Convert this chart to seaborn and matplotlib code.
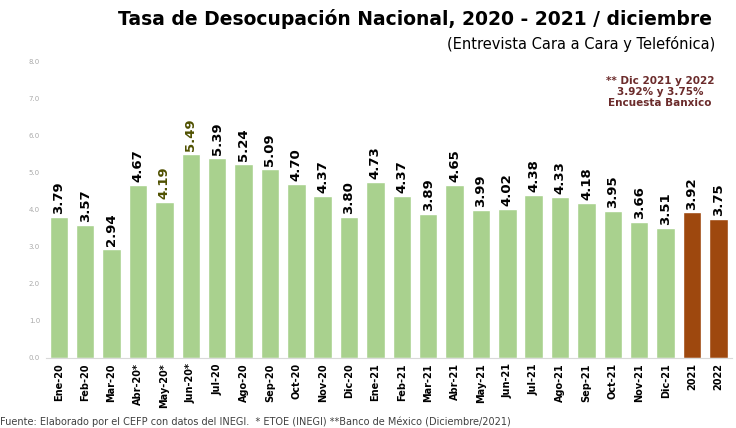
import pandas as pd
import matplotlib.pyplot as plt
import seaborn as sns

# ============ Data ============
periods = [
    "Ene-20", "Feb-20", "Mar-20", "Abr-20*", "May-20*", "Jun-20*", "Jul-20",
    "Ago-20", "Sep-20", "Oct-20", "Nov-20", "Dic-20", "Ene-21", "Feb-21",
    "Mar-21", "Abr-21", "May-21", "Jun-21", "Jul-21", "Ago-21", "Sep-21",
    "Oct-21", "Nov-21", "Dic-21", "2021", "2022"
]
rates = [
    3.79, 3.57, 2.94, 4.67, 4.19, 5.49, 5.39, 5.24, 5.09, 4.70, 4.37, 3.80,
    4.73, 4.37, 3.89, 4.65, 3.99, 4.02, 4.38, 4.33, 4.18, 3.95, 3.66, 3.51,
    3.92, 3.75
]
kind = ["obs"] * 24 + ["fcst"] * 2

df = pd.DataFrame({"periodo": periods, "tasa": rates, "tipo": kind})

# ============ Style ============
sns.set_style("white")
plt.rcParams['font.family'] = ['DejaVu Sans']
plt.rcParams['text.color'] = 'black'
plt.rcParams['xtick.color'] = 'black'
palette = {"obs": "#A9D18E", "fcst": "#9E480E"}

fig = plt.figure(figsize=(7.36, 4.28), dpi=100)
ax = fig.add_axes([0.062, 0.164, 0.932, 0.693])

sns.barplot(data=df, x="periodo", y="tasa", hue="tipo", palette=palette,
            dodge=False, width=0.7, saturation=1, legend=False, ax=ax)

# ============ Value labels ============
for i, v in enumerate(rates):
    col = "#4F5000" if periods[i] in ("May-20*", "Jun-20*") else "black"
    ax.text(i, v + 0.08, f"{v:.2f}", rotation=90, ha="center", va="bottom",
            fontsize=9.5, fontweight="bold", color=col)

# ============ Axes ============
ax.set_ylim(0, 8)
ax.set_yticks([i for i in range(9)])
ax.set_yticklabels([f"{i:.1f}" for i in range(9)], fontsize=5, color="#AAAAAA")
ax.tick_params(axis="y", length=0, pad=4)
ax.tick_params(axis="x", length=0, pad=4)
plt.setp(ax.get_xticklabels(), rotation=90, fontsize=7, fontweight="bold",
         color="black")
ax.set_xlabel("")
ax.set_ylabel("")
ax.set_xlim(-0.5, len(periods) - 0.5)
for s in ["top", "right", "left"]:
    ax.spines[s].set_visible(False)
ax.spines["bottom"].set_color("#D9D9D9")

# ============ Titles & notes ============
fig.text(0.967, 0.955, "Tasa de Desocupación Nacional, 2020 - 2021 / diciembre",
         ha="right", va="center", fontsize=13.5, fontweight="bold", color="black")
fig.text(0.79, 0.897, "(Entrevista Cara a Cara y Telefónica)",
         ha="center", va="center", fontsize=10.5, color="black")
fig.text(0.897, 0.785, "** Dic 2021 y 2022\n3.92% y 3.75%\nEncuesta Banxico",
         ha="center", va="center", fontsize=7.5, fontweight="bold",
         color="#6B2B2B", linespacing=1.1)
fig.text(0.0, 0.002,
         "Fuente: Elaborado por el CEFP con datos del INEGI.  * ETOE (INEGI) **Banco de México (Diciembre/2021)",
         ha="left", va="bottom", fontsize=7, color="#404040")

fig.savefig("out.png", dpi=100)
